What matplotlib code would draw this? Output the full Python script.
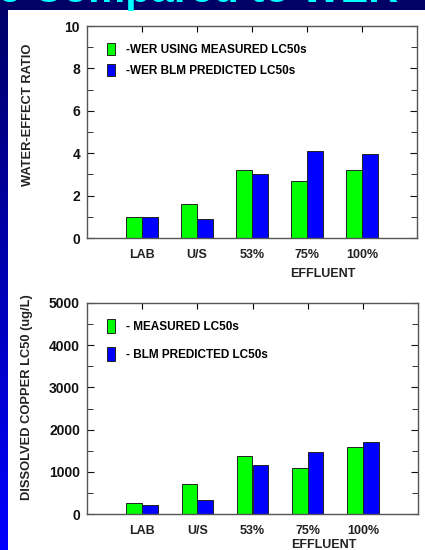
import numpy as np
import matplotlib.pyplot as plt
from matplotlib.patches import Rectangle
from matplotlib.colors import LinearSegmentedColormap
from matplotlib.ticker import MultipleLocator

plt.rcParams['font.family'] = ['Liberation Sans', 'DejaVu Sans']
plt.rcParams['font.weight'] = 'bold'

sites = ['LAB', 'U/S', '53%', '75%', '100%']

# water-effect ratios
wer_measured = [1.0, 1.6, 3.2, 2.7, 3.2]
wer_blm = [1.0, 0.88, 3.03, 4.09, 3.95]

# dissolved copper LC50s (ug/L)
lc50_measured = [270, 720, 1380, 1100, 1580]
lc50_blm = [210, 340, 1160, 1460, 1700]

GREEN = '#00ff00'
BLUE = '#0000ff'
W = 425
H = 550

fig = plt.figure(figsize=(W / 100, H / 100), dpi=100)
fig.patch.set_facecolor('#000066')

# backdrop: navy frame, white slide area, gradient strip on the left
bg = fig.add_axes([0, 0, 1, 1], zorder=-10)
bg.set_axis_off()
bg.add_patch(Rectangle((8, 10), W, H, facecolor='white', edgecolor='none'))
cmap = LinearSegmentedColormap.from_list('strip', ['#000066', '#0000ff'])
bg.imshow(np.linspace(0, 1, 256)[:, None], aspect='auto', cmap=cmap,
          extent=(0, 8, H, 0))
bg.set_xlim(0, W)
bg.set_ylim(H, 0)

fig.text(-2 / W, 1 - 2 / H, 'e Compared to WER', color='#00ffff', fontsize=30,
         weight='bold', va='baseline', ha='left')


def bar_panel(rect, meas, pred, step, minor, top, ylabel, ylab_y, xpad, labels, leg):
    ax = fig.add_axes(rect)
    ax.set_facecolor('none')
    x = np.arange(1, len(sites) + 1)
    w = 0.285
    b1 = ax.bar(x - w / 2, meas, w, color=GREEN, edgecolor='#222222', linewidth=0.7)
    b2 = ax.bar(x + w / 2, pred, w, color=BLUE, edgecolor='#222222', linewidth=0.7)
    ax.set_xlim(0, 6)
    ax.set_ylim(0, top)
    ax.set_xticks(x)
    ax.set_xticklabels(sites, fontsize=9, weight='bold', color='#222222')
    ax.yaxis.set_major_locator(MultipleLocator(step))
    ax.yaxis.set_minor_locator(MultipleLocator(minor))
    ax.tick_params(axis='y', which='both', direction='in', right=True, labelsize=10,
                   colors='#111111', pad=5)
    ax.tick_params(axis='y', which='major', length=5)
    ax.tick_params(axis='y', which='minor', length=4)
    ax.tick_params(axis='x', direction='in', top=True, bottom=False, length=4, pad=8)
    for s in ax.spines.values():
        s.set_color('#555555')
        s.set_linewidth(1.0)
    ax.set_ylabel(ylabel, fontsize=9.3, weight='bold', color='#222222', va='center')
    ax.yaxis.set_label_coords(-0.18, ylab_y)
    ax.set_xlabel('EFFLUENT', fontsize=9, weight='bold', color='#222222', x=0.715,
                  labelpad=xpad)
    ax.legend([b1, b2], labels, **leg, frameon=False, fontsize=8.5,
              handlelength=0.68, handletextpad=0.93, borderaxespad=0)
    return ax


bar_panel([87 / W, 1 - 238 / H, 330 / W, 212 / H], wer_measured, wer_blm, 2, 1, 10,
          'WATER-EFFECT RATIO', 0.58, 5,
          ['-WER USING MEASURED LC50s', '-WER BLM PREDICTED LC50s'],
          dict(loc='upper left', bbox_to_anchor=(0.045, 0.94), handleheight=1.19,
               labelspacing=0.6))

bar_panel([87 / W, 1 - 514 / H, 331 / W, 211 / H], lc50_measured, lc50_blm, 1000, 500,
          5000, 'DISSOLVED COPPER LC50 (ug/L)', 0.555, 1,
          ['- MEASURED LC50s', '- BLM PREDICTED LC50s'],
          dict(loc='upper left', bbox_to_anchor=(0.045, 0.945), handleheight=1.44,
               labelspacing=1.15))

fig.savefig('out.png', dpi=100, facecolor=fig.get_facecolor())
